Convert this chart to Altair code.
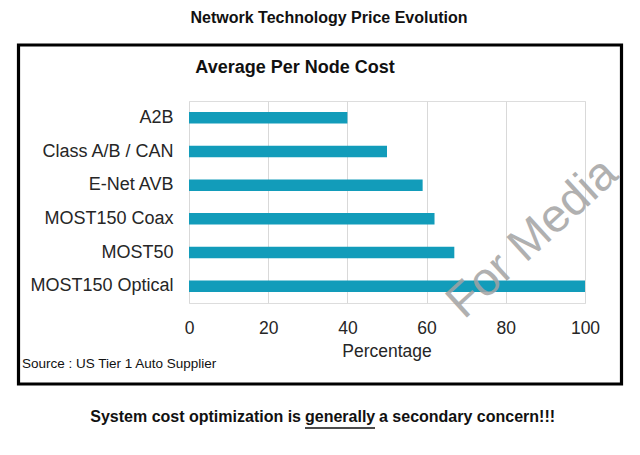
import altair as alt
import pandas as pd

# ---- data ----
categories = ["A2B", "Class A/B / CAN", "E-Net AVB", "MOST150 Coax", "MOST50", "MOST150 Optical"]
values = [40, 50, 59, 62, 67, 100]
x_ticks = [0, 20, 40, 60, 80, 100]

chart_title = ["Network Technology Price Evolution"]
panel_title = ["Average Per Node Cost"]
x_title = ["Percentage"]
source_note = ["Source : US Tier 1 Auto Supplier"]
footer_parts = ["System cost optimization is", "generally", "a secondary concern!!!"]
watermark = ["For Media"]

FONT = "Liberation Sans"
BAR = "#129CBA"

df = pd.DataFrame({"tech": categories, "pct": values})

W, H = 396, 202

bars = alt.Chart(df).mark_bar(color=BAR).encode(
    x=alt.X(
        "pct:Q",
        scale=alt.Scale(domain=[0, 100], nice=False),
        axis=alt.Axis(values=x_ticks, title=None, grid=True, gridColor="#d9d9d9",
                      gridWidth=1, domain=False, ticks=False, labelPadding=16,
                      labelFlush=False, labelFontSize=17.5, labelColor="#262626",
                      labelFont=FONT),
    ),
    y=alt.Y(
        "tech:N",
        sort=categories,
        scale=alt.Scale(paddingInner=0.66, paddingOuter=0.33),
        axis=alt.Axis(title=None, domain=False, ticks=False, grid=False,
                      labelPadding=16, labelFontSize=18, labelColor="#262626",
                      labelFont=FONT),
    ),
)


def txt(items, x, y, size, bold=False, align="center", baseline="middle",
        color="#111111", angle=0, opacity=1.0):
    d = pd.DataFrame({"t": items})
    kw = dict(font=FONT, fontSize=size, fontWeight="bold" if bold else "normal",
              align=align, baseline=baseline, color=color, opacity=opacity)
    if angle:
        kw["angle"] = angle
    return alt.Chart(d).mark_text(**kw).encode(
        x=alt.value(x), y=alt.value(y), text="t:N"
    )


box = alt.Chart(pd.DataFrame({"k": [0]})).mark_rect(
    fillOpacity=0, stroke="#000000", strokeWidth=3.2
).encode(x=alt.value(-170.5), x2=alt.value(432.5), y=alt.value(-56), y2=alt.value(283))

underline = alt.Chart(pd.DataFrame({"k": [0]})).mark_rule(
    color="#111111", strokeWidth=1.3
).encode(x=alt.value(116), x2=alt.value(186), y=alt.value(327))

layers = [
    box,
    bars,
    txt(chart_title, 140, -83, 16, bold=True),
    txt(panel_title, 106, -33, 18, bold=True),
    txt(x_title, 198, 251, 17.5, color="#262626"),
    txt(source_note, -167, 263, 13.5, align="left"),
    txt([footer_parts[0]], 112, 316, 16, bold=True, align="right"),
    txt([footer_parts[1]], 116, 316, 16, bold=True, align="left"),
    txt([footer_parts[2]], 190, 316, 16, bold=True, align="left"),
    underline,
    txt(watermark, 275, 219, 47, align="left", baseline="alphabetic",
        color="#a3a3a3", angle=317.5, opacity=0.85),
]

chart = alt.layer(*layers).properties(
    width=W,
    height=H,
    autosize=alt.AutoSizeParams(type="none"),
    padding={"left": 181, "top": 93, "right": 47, "bottom": 130},
    background="white",
).configure_view(stroke=None).configure(font=FONT)

chart.save("out.html", embed_options={"renderer": "svg", "actions": False})
